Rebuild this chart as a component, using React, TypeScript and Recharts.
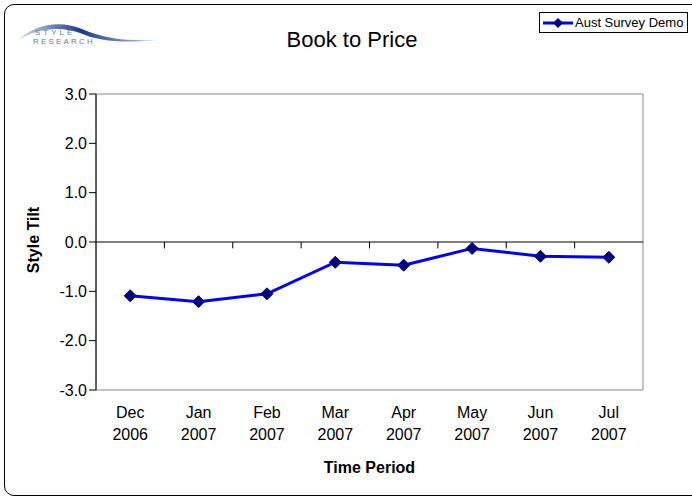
import { LineChart, Line, XAxis, YAxis, ReferenceLine, ReferenceArea } from "recharts";

const months = ["Dec", "Jan", "Feb", "Mar", "Apr", "May", "Jun", "Jul"];
const years = ["2006", "2007", "2007", "2007", "2007", "2007", "2007", "2007"];
const tilt = [-1.09, -1.21, -1.05, -0.41, -0.47, -0.13, -0.29, -0.31];
const yTicks = [3, 2, 1, 0, -1, -2, -3];
const boundaries = [1, 2, 3, 4, 5, 6, 7];
const seriesName = "Aust Survey Demo";

const data = months.map((m, i) => ({ x: i + 0.5, month: m, year: years[i], tilt: tilt[i] }));
const font = "'Liberation Sans', Arial, sans-serif";

function Diamond(props: any) {
  const { cx, cy } = props;
  if (cx == null || cy == null) return null;
  return <path d={`M${cx},${cy - 6}L${cx + 6},${cy}L${cx},${cy + 6}L${cx - 6},${cy}Z`} fill="#000080" stroke="#000080" />;
}

function MonthTick(props: any) {
  const { x, y, payload } = props;
  const i = Math.round(payload.value - 0.5);
  return (
    <text x={x} y={y} textAnchor="middle" fontFamily={font} fontSize={16} fill="#000">
      <tspan x={x} dy={20}>{months[i]}</tspan>
      <tspan x={x} dy={22}>{years[i]}</tspan>
    </text>
  );
}

function LegendBox() {
  return (
    <div style={{ position: "absolute", left: 539, top: 12, border: "1px solid #000", background: "#fff", padding: "2px 4px 2px 3px", display: "flex", alignItems: "center", fontFamily: font, fontSize: 13 }}>
      <svg width={30} height={12}>
        <line x1={0} y1={6} x2={30} y2={6} stroke="#0000ff" strokeWidth={3} />
        <path d="M15,1L20,6L15,11L10,6Z" fill="#000080" />
      </svg>
      <span style={{ marginLeft: 2 }}>{seriesName}</span>
    </div>
  );
}

function Logo() {
  return (
    <svg width={170} height={60} style={{ position: "absolute", left: 0, top: 0 }}>
      <defs>
        <linearGradient id="swoosh" x1="0" y1="0" x2="1" y2="0">
          <stop offset="0%" stopColor="#d5e0ee" />
          <stop offset="45%" stopColor="#183c8a" />
          <stop offset="100%" stopColor="#c0d2e8" />
        </linearGradient>
      </defs>
      <path d="M18,40 C35,24 60,20 82,29 C105,39 125,41 158,40 C125,43 100,42 80,33 C60,26 38,28 18,40Z" fill="url(#swoosh)" />
      <text x={35} y={35} fontFamily={font} fontSize={8} letterSpacing={3} fill="#6e7a8a">STYLE</text>
      <text x={33} y={44} fontFamily={font} fontSize={8} letterSpacing={2.2} fill="#6e7a8a">RESEARCH</text>
    </svg>
  );
}

export default function App() {
  return (
    <div style={{ position: "absolute", left: 0, top: 0, width: 692, height: 499, background: "#fff", overflow: "hidden" }}>
      <div style={{ position: "absolute", left: 4, top: 4, width: 700, height: 490, border: "1.5px solid #000", borderRadius: 10 }} />
      <Logo />
      <div style={{ position: "absolute", left: 0, width: 704, top: 27, textAlign: "center", fontFamily: font, fontSize: 22, color: "#000" }}>Book to Price</div>
      <div style={{ position: "absolute", left: 96, width: 547, top: 459, textAlign: "center", fontFamily: font, fontSize: 16, fontWeight: "bold" }}>Time Period</div>
      <div style={{ position: "absolute", left: -16, top: 231, width: 100, textAlign: "center", fontFamily: font, fontSize: 16, fontWeight: "bold", transform: "rotate(-90deg)" }}>Style Tilt</div>
      <div style={{ position: "absolute", left: 0, top: 0 }}>
        <LineChart width={692} height={499} data={data} margin={{ top: 94, right: 49, bottom: 59, left: 36 }}>
          <ReferenceArea x1={0} x2={8} y1={-3} y2={3} fill="none" stroke="#888" strokeWidth={1} ifOverflow="visible" />
          <XAxis type="number" dataKey="x" domain={[0, 8]} ticks={data.map((d) => d.x)} tick={<MonthTick />} axisLine={false} tickLine={false} height={50} interval={0} />
          <YAxis domain={[-3, 3]} ticks={yTicks} tickFormatter={(v: number) => v.toFixed(1)} width={60} axisLine={{ stroke: "#000" }} tickLine={{ stroke: "#000" }} tickSize={7} tick={{ fontFamily: font, fontSize: 16, fill: "#000" }} />
          <ReferenceLine y={0} stroke="#000" strokeWidth={1} />
          {boundaries.map((b) => (
            <ReferenceLine key={b} segment={[{ x: b, y: 0 }, { x: b, y: -0.13 }]} stroke="#000" />
          ))}
          <Line dataKey="tilt" name={seriesName} stroke="#0000ff" strokeWidth={3} dot={<Diamond />} isAnimationActive={false} />
        </LineChart>
      </div>
      <LegendBox />
    </div>
  );
}
